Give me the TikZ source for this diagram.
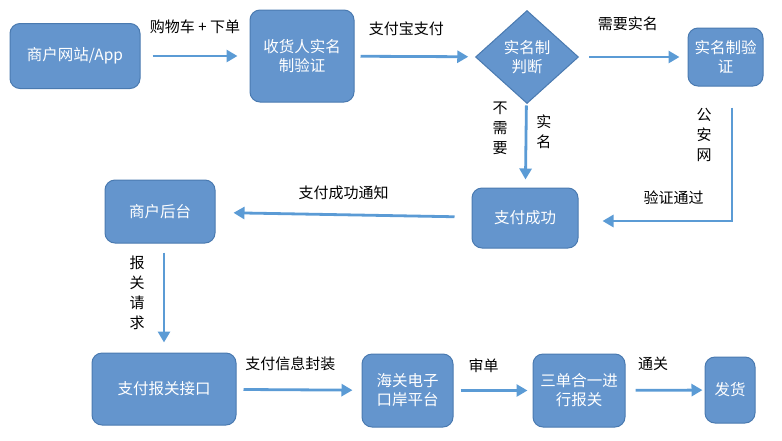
\documentclass[tikz,border=0pt]{standalone}
\usepackage{fontspec}
\setmainfont{Noto Sans CJK SC}
\usepackage{tikz}
\usetikzlibrary{arrows.meta, shapes.geometric}
\definecolor{boxblue}{HTML}{6495CD}
\definecolor{boxedge}{HTML}{4A7AB0}
\definecolor{flowblue}{HTML}{5B9BD5}
\tikzstyle{block} = [rectangle, draw=boxedge, fill=boxblue, line width=1pt,
    text=white, align=center, rounded corners=10pt, inner sep=0pt,
    font=\fontsize{15.5}{19}\selectfont]
\tikzstyle{decision} = [diamond, draw=boxedge, fill=boxblue, line width=1pt,
    text=white, align=center, inner sep=0pt, font=\fontsize{15.5}{19}\selectfont]

\begin{document}
\begin{tikzpicture}[
x = 1pt, y = -1pt,
flow/.style = {draw=flowblue, line width=2.8pt, -{Triangle[length=11pt,width=12pt]}},
tag/.style = {font=\fontsize{15}{20}\selectfont, align=center, inner sep=2pt}
                        ]
\useasboundingbox (0,0) rectangle (782,440);
% top row
\node [block, minimum width=130pt, minimum height=65pt] (site) at (75,56) {商户网站/App};
\node [block, minimum width=104pt, minimum height=92pt] (verify) at (302,56) {收货人实名\\制验证};
\node [decision, minimum width=103pt, minimum height=93pt] (judge) at (527,57) {实名制\\判断};
\node [block, minimum width=75pt, minimum height=58pt] (realverify) at (725.5,57) {实名制验\\证};
% middle row
\node [block, minimum width=106pt, minimum height=60pt] (success) at (525,218) {支付成功};
\node [block, minimum width=110pt, minimum height=63pt] (backend) at (160,211.5) {商户后台};
% bottom row
\node [block, minimum width=144pt, minimum height=72pt] (port) at (164,389) {支付报关接口};
\node [block, minimum width=91pt, minimum height=73pt] (eport) at (407.5,390.5) {海关电子\\口岸平台};
\node [block, minimum width=92pt, minimum height=73pt] (three) at (579,390.5) {三单合一进\\行报关};
\node [block, minimum width=50pt, minimum height=66pt] (ship) at (730,390) {发货};

\draw [flow, shorten <=12pt, shorten >=12pt] (site) --
    node [tag, above=19pt] (cart) {购物车 + 下单} (verify);
\draw [flow, shorten <=6pt, shorten >=7pt] (verify) --
    node [tag, pos=0.43, above=17pt] (alipay) {支付宝支付} (judge);
\draw [flow, shorten <=10pt, shorten >=8pt] (judge) --
    node [tag, pos=0.45, above=23pt] (need) {需要实名} (realverify);
\draw [flow, shorten <=2pt, shorten >=8pt] (judge) --
    node [tag, pos=0.3, left=15pt] (noneed) {不\\需\\要}
    node [tag, pos=0.34, right=7pt] (realname) {实\\名} (success);
\draw [flow, shorten <=21pt, shorten >=24pt] ([xshift=6.5pt]realverify.south) |-
    node [tag, pos=0.18, left=17pt] (police) {公\\安\\网}
    node [tag, pos=0.69, above=13pt] (passed) {验证通过} ([yshift=-3pt]success.east);
\draw [flow, shorten <=17pt, shorten >=18pt] (success) --
    node [tag, above=12pt] (notify) {支付成功通知} (backend);
\draw [flow, shorten <=9pt, shorten >=10pt] (backend.south -| port.north) --
    node [tag, pos=0.45, left=16pt] (declare) {报\\关\\请\\求} (port.north);
\draw [flow, shorten <=7pt, shorten >=9pt] (port) --
    node [tag, pos=0.43, above=16pt] (pack) {支付信息封装} (eport);
\draw [flow, shorten <=7pt, shorten >=5pt] (eport) --
    node [tag, pos=0.38, above=14pt] (audit) {审单} (three);
\draw [flow, shorten <=10pt, shorten >=2pt] (three) --
    node [tag, pos=0.35, above=16pt] (clear) {通关} (ship);
\end{tikzpicture}
\end{document}
